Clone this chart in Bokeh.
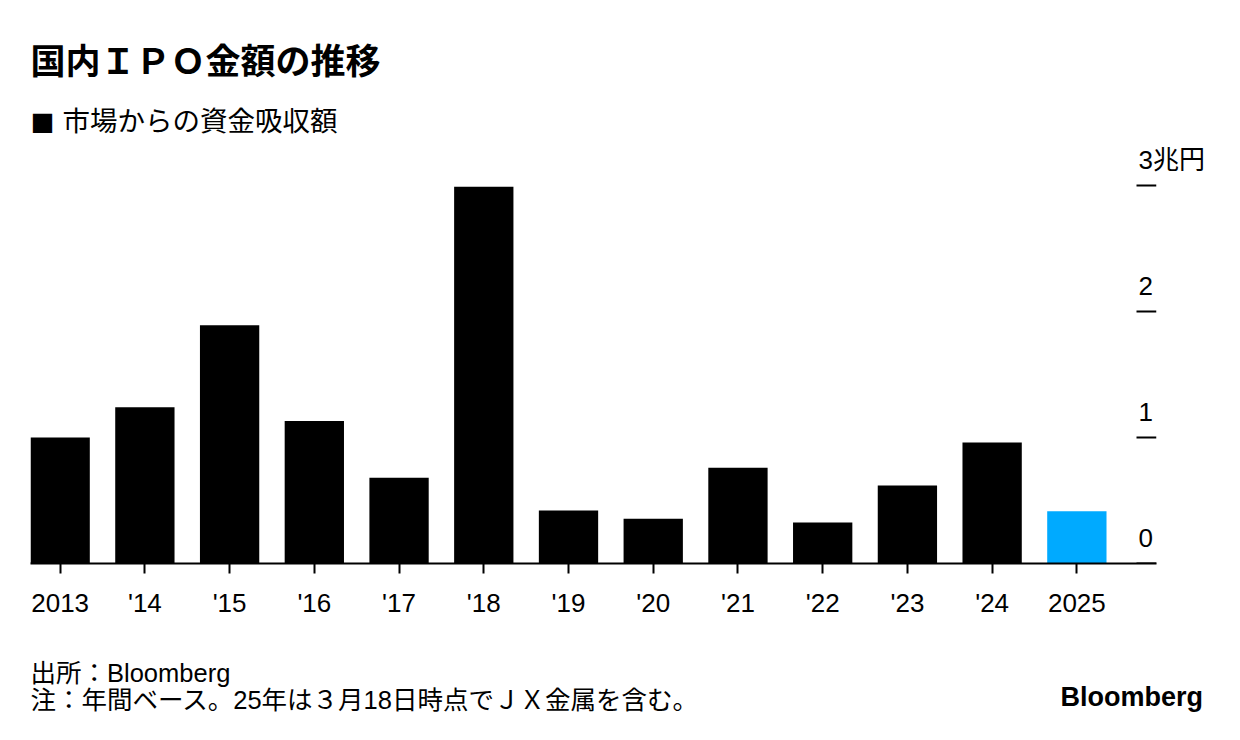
from bokeh.plotting import figure
from bokeh.models import Range1d, FixedTicker, Label, LinearAxis
from bokeh.layouts import column
from bokeh.embed import file_html
from bokeh.resources import INLINE
import math

# ---- data ----
years = ["2013", "'14", "'15", "'16", "'17", "'18", "'19", "'20", "'21", "'22", "'23", "'24", "2025"]
amounts = [1.00, 1.24, 1.89, 1.13, 0.68, 2.99, 0.42, 0.355, 0.76, 0.325, 0.62, 0.96, 0.415]
bar_colors = ["#000000"] * 12 + ["#00aaff"]
y_ticks = [0, 1, 2, 3]
y_tick_labels = ["0", "1", "2", "3"]
y_unit = "兆円"
title_text = "国内ＩＰＯ金額の推移"
legend_mark = "■"
legend_text = "市場からの資金吸収額"
source_text = "出所：Bloomberg"
note_text = "注：年間ベース。25年は３月18日時点でＪＸ金属を含む。"
logo_text = "Bloomberg"

FONT = "Liberation Sans, Noto Sans CJK JP"
CJK = "Noto Sans CJK JP"
W = 1240
LEFT, RIGHT = 30, 84  # frame borders (frames of the column are aligned)


def text_panel(h):
    f = figure(width=W, height=h, x_range=Range1d(LEFT, W - RIGHT), y_range=Range1d(h, 0),
               x_axis_location=None, y_axis_location=None,
               min_border_left=LEFT, min_border_right=RIGHT, min_border_top=0, min_border_bottom=0,
               toolbar_location=None, output_backend="svg", title=None)
    f.outline_line_color = None
    f.grid.visible = False
    f.background_fill_color = "white"
    f.border_fill_color = "white"
    return f


# ---- header ----
head = text_panel(140)
head.add_layout(Label(x=30, y=61, text=title_text, text_baseline="middle", text_font=FONT,
                      text_font_size="35px", text_font_style="bold", text_color="black"))
head.add_layout(Label(x=30, y=121, text=legend_mark, text_baseline="middle", text_font=CJK,
                      text_font_size="24px", text_color="black"))
head.add_layout(Label(x=62, y=121, text=legend_text, text_baseline="middle", text_font=FONT,
                      text_font_size="27.5px", text_color="black"))

# ---- main chart ----
x_lo, x_hi = -0.35, 12.94
y_top = 3.357
p = figure(width=W, height=520, title=None,
           x_range=Range1d(x_lo, x_hi), y_range=Range1d(0, y_top),
           output_backend="svg", toolbar_location=None,
           y_axis_location=None,
           min_border_left=LEFT, min_border_right=RIGHT,
           min_border_top=0, min_border_bottom=97)
p.outline_line_color = None
p.grid.visible = False
p.background_fill_color = "white"
p.border_fill_color = "white"

idx = list(range(len(years)))
p.vbar(x=idx, top=amounts, width=0.70, fill_color=bar_colors, line_color=None)

ax = p.xaxis[0]
ax.ticker = FixedTicker(ticks=idx)
ax.major_label_overrides = {i: y for i, y in zip(idx, years)}
ax.axis_line_color = "black"
ax.axis_line_width = 2
ax.major_tick_line_color = "black"
ax.major_tick_line_width = 2
ax.major_tick_in = 0
ax.major_tick_out = 10
ax.minor_tick_line_color = None
ax.major_label_text_font = FONT
ax.major_label_text_font_size = "26px"
ax.major_label_text_color = "black"
ax.major_label_standoff = 14

# short dashes at right for y ticks
p.ray(x=[x_hi] * len(y_ticks), y=y_ticks, length=20, length_units="screen",
      angle=math.pi, line_color="black", line_width=2)

# y labels sit above their dash: axis on a shifted range
shift = 25 / 126
p.extra_y_ranges = {"lab": Range1d(-shift, y_top - shift)}
lab_axis = LinearAxis(y_range_name="lab", ticker=FixedTicker(ticks=y_ticks),
                      major_label_overrides={v: (t + y_unit if v == y_ticks[-1] else t)
                                             for v, t in zip(y_ticks, y_tick_labels)})
lab_axis.axis_line_color = None
lab_axis.major_tick_line_color = None
lab_axis.minor_tick_line_color = None
lab_axis.major_tick_in = 0
lab_axis.major_tick_out = 0
lab_axis.major_label_standoff = -18
lab_axis.major_label_text_font = FONT
lab_axis.major_label_text_font_size = "26px"
lab_axis.major_label_text_color = "black"
p.add_layout(lab_axis, "right")

# ---- footer ----
foot = text_panel(80)
foot.add_layout(Label(x=30, y=12, text=source_text, text_baseline="middle", text_font=FONT,
                      text_font_size="25.5px", text_color="black"))
foot.add_layout(Label(x=30, y=39, text=note_text, text_baseline="middle", text_font=FONT,
                      text_font_size="25.5px", text_color="black"))
# logo: drawn as a right-side axis label so it may extend past the aligned frame
logo_y = 36
logo_axis = LinearAxis(ticker=FixedTicker(ticks=[logo_y]),
                       major_label_overrides={logo_y: logo_text})
logo_axis.axis_line_color = None
logo_axis.major_tick_line_color = None
logo_axis.minor_tick_line_color = None
logo_axis.major_tick_in = 0
logo_axis.major_tick_out = 0
logo_axis.major_label_standoff = -96
logo_axis.major_label_text_font = FONT
logo_axis.major_label_text_font_size = "27px"
logo_axis.major_label_text_font_style = "bold"
logo_axis.major_label_text_color = "black"
foot.add_layout(logo_axis, "right")

layout = column(head, p, foot, spacing=0)
open("out.html", "w").write(file_html(layout, INLINE))
